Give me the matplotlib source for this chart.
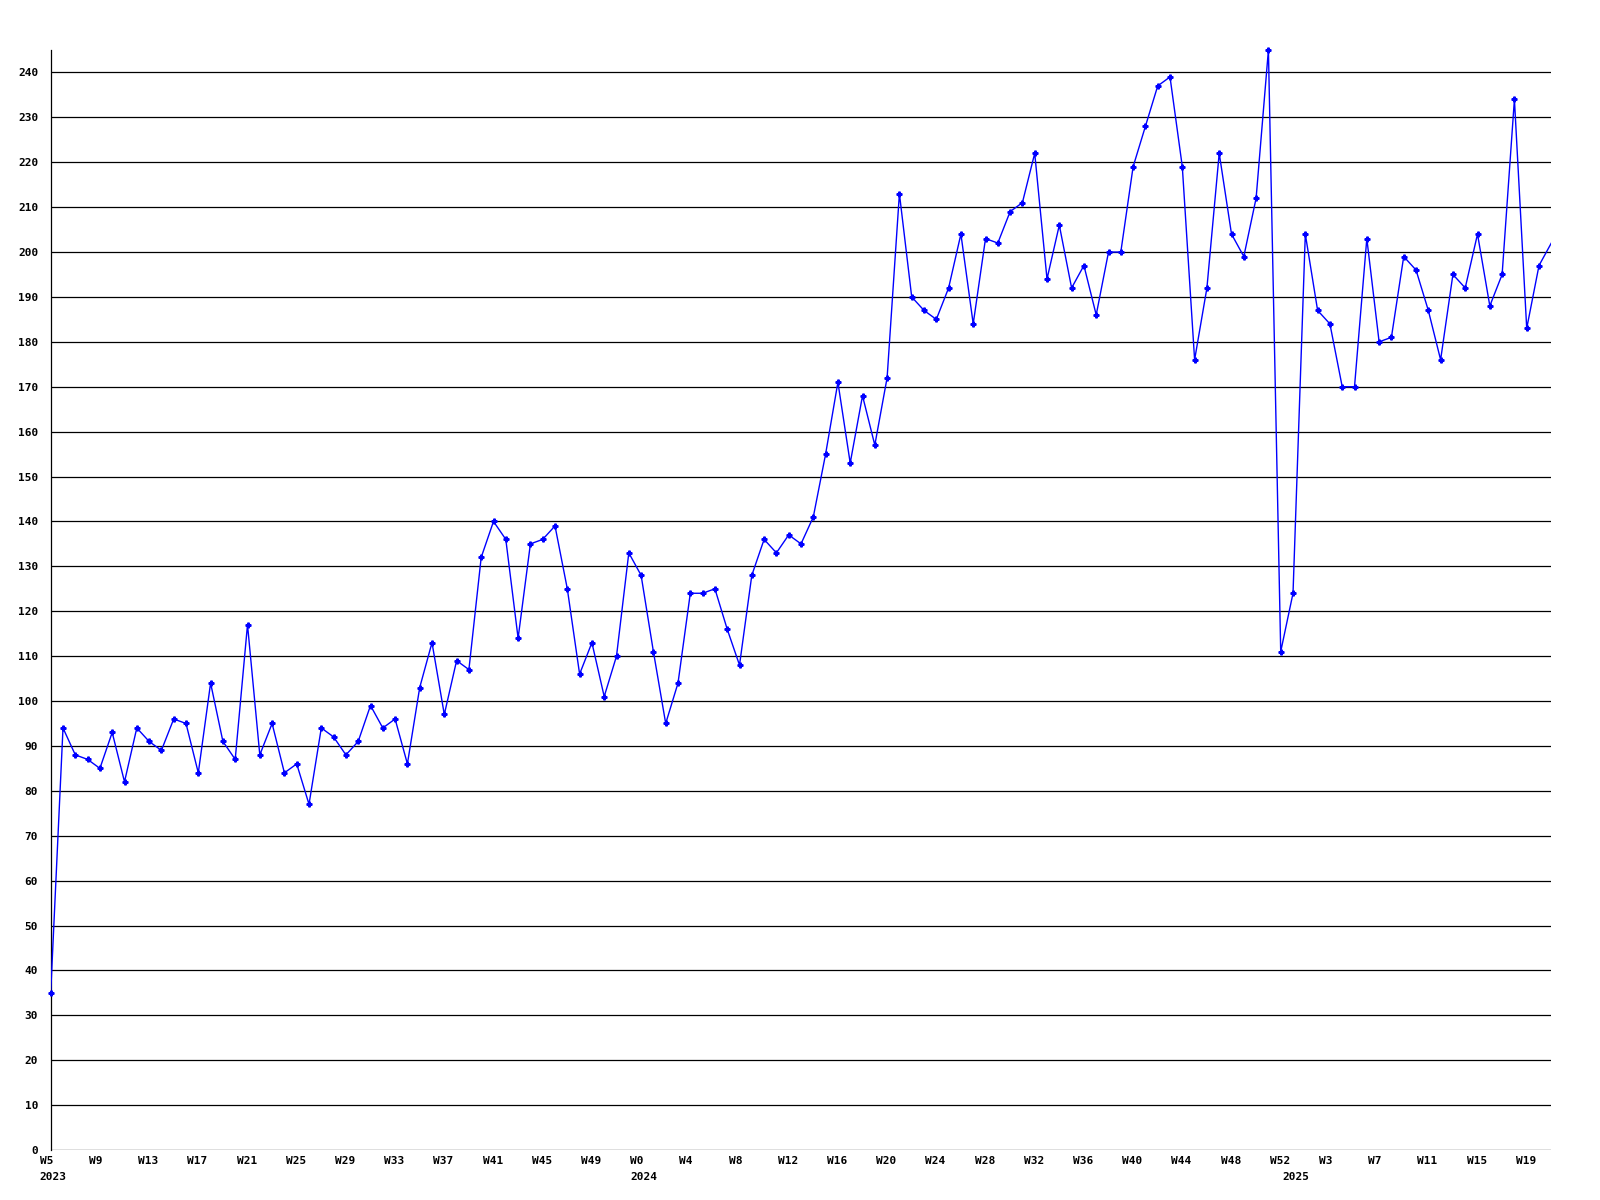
import matplotlib
matplotlib.use("Agg")
import matplotlib.pyplot as plt
from matplotlib.transforms import blended_transform_factory, offset_copy

# weekly values, W5 2023 .. W21 2025 (last point runs off the right edge)
values_2023 = [35, 94, 88, 87, 85, 93, 82, 94, 91, 89, 96, 95, 84, 104, 91, 87,
               117, 88, 95, 84, 86, 77, 94, 92, 88, 91, 99, 94, 96, 86, 103, 113,
               97, 109, 107, 132, 140, 136, 114, 135, 136, 139, 125, 106, 113, 101,
               110, 133]
values_2024 = [128, 111, 95, 104, 124, 124, 125, 116, 108, 128, 136, 133, 137,
               135, 141, 155, 171, 153, 168, 157, 172, 213, 190, 187, 185, 192,
               204, 184, 203, 202, 209, 211, 222, 194, 206, 192, 197, 186, 200,
               200, 219, 228, 237, 239, 219, 176, 192, 222, 204, 199, 212, 245,
               111]
values_2025 = [124, 204, 187, 184, 170, 170, 203, 180, 181, 199, 196, 187, 176,
               195, 192, 204, 188, 195, 234, 183, 197, 202]

values = values_2023 + values_2024 + values_2025

tick_pos = list(range(0, 121, 4))
tick_labels = ["W5", "W9", "W13", "W17", "W21", "W25", "W29", "W33", "W37",
               "W41", "W45", "W49", "W0", "W4", "W8", "W12", "W16", "W20",
               "W24", "W28", "W32", "W36", "W40", "W44", "W48", "W52", "W3",
               "W7", "W11", "W15", "W19"]
year_pos = [0, len(values_2023), len(values_2023) + len(values_2024)]
year_labels = ["2023", "2024", "2025"]

fig = plt.figure(figsize=(16, 12), dpi=100)
ax = fig.add_axes([50.7 / 1600, 50 / 1200, 1500 / 1600, 1100 / 1200])

font = dict(family="DejaVu Sans Mono", fontweight="bold", fontsize=8)

# horizontal grid
for v in range(0, 250, 10):
    ax.axhline(v, color="black", linewidth=0.9, zorder=1)

x = list(range(len(values)))
# line clipped at the plot edge
ax.plot(x, values, color="#0000ff", linewidth=1.0, zorder=3)
# markers (the last point lies outside the plot)
ax.plot(x[:-1], values[:-1], linestyle="none", color="#0000ff",
        marker="P", markersize=3.5, zorder=4, clip_on=False)

ax.set_xlim(0, 121.95)
ax.set_ylim(0, 245)

for s in ["top", "right", "bottom"]:
    ax.spines[s].set_visible(False)
ax.spines["left"].set_color("black")
ax.spines["left"].set_linewidth(0.9)

ax.set_yticks(range(0, 250, 10))
ax.set_yticklabels([str(v) for v in range(0, 250, 10)], **font)
ax.tick_params(axis="y", length=0, pad=9)
ax.set_xticks([])

trans = blended_transform_factory(ax.transData, ax.transAxes)
row1 = offset_copy(trans, fig=fig, x=-11, y=-11, units="dots")
row2 = offset_copy(trans, fig=fig, x=-11, y=-27, units="dots")
for p, lab in zip(tick_pos, tick_labels):
    ax.text(p, 0, lab, transform=row1, ha="left", va="center", **font)
for p, lab in zip(year_pos, year_labels):
    ax.text(p, 0, lab, transform=row2, ha="left", va="center", **font)

fig.savefig("out.png", dpi=100)
